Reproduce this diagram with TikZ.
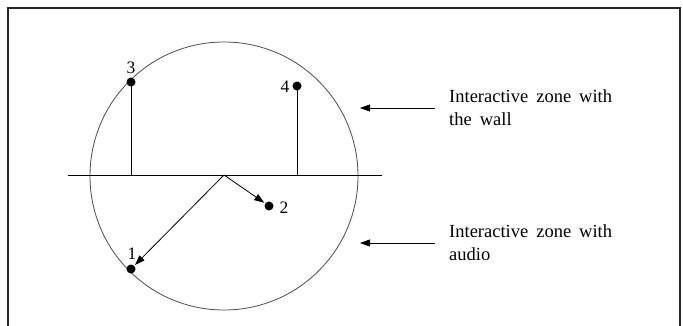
\documentclass[tikz,border=0pt]{standalone}
\usepackage{fontspec}
\setmainfont{Liberation Serif}
\usetikzlibrary{arrows.meta}
\newcommand\zonefont{\fontsize{18.5}{23}\selectfont}
\newcommand\wsp{\hspace{8pt}}
\begin{document}
\begin{tikzpicture}[x=1pt,y=-1pt,
  dot/.style={circle,fill=black,inner sep=0pt,minimum size=9pt},
  lbl/.style={inner sep=0pt,font=\fontsize{17.5}{21}\selectfont},
  txt/.style={inner sep=0pt,anchor=base west,font=\zonefont},
  conn/.style={line width=0.8pt},
  arr/.style={line width=0.8pt,-{Triangle[length=10pt,width=7pt]}}]
\useasboundingbox (0,0) rectangle (683,326);
% frame
\draw[line width=1.2pt,black!85] (8,330) -- (8,8) -- (680,8) -- (680,330);
% circle
\node[draw=black!70,line width=0.8pt,circle,inner sep=0pt,minimum size=268pt] (zone) at (224,176) {};
% wall line
\coordinate (hl) at (68,175);
\coordinate (hr) at (382,175);
\draw[conn] (hl) -- (hr);
\coordinate (o) at (224,175);
% points
\node[dot] (p3) at (131,82) {};
\node[dot] (p4) at (297,86) {};
\node[dot] (p1) at (131,269) {};
\node[dot] (p2) at (269,206) {};
\node[lbl] (l3) at (131,68) {3};
\node[lbl] (l4) at (285,87) {4};
\node[lbl] (l1) at (132,254) {1};
\node[lbl] (l2) at (284,208) {2};
\coordinate (b3) at (131,175);
\coordinate (b4) at (297,175);
\draw[conn] (p3.center) -- (b3);
\draw[conn] (p4.center) -- (b4);
\draw[arr,shorten >=1pt] (o) -- (p1);
\draw[arr,shorten >=1pt] (o) -- (p2);
% zone arrows
\coordinate (a1s) at (435,108);
\coordinate (a1e) at (360,108);
\coordinate (a2s) at (435,243);
\coordinate (a2e) at (360,243);
\draw[arr] (a1s) -- (a1e);
\draw[arr] (a2s) -- (a2e);
\node[txt] (t1a) at (449,103) {Interactive\wsp zone\wsp with};
\node[txt] (t1b) at (449,126) {the\wsp wall};
\node[txt] (t2a) at (449,237) {Interactive\wsp zone\wsp with};
\node[txt] (t2b) at (449,260) {audio};
\end{tikzpicture}
\end{document}
